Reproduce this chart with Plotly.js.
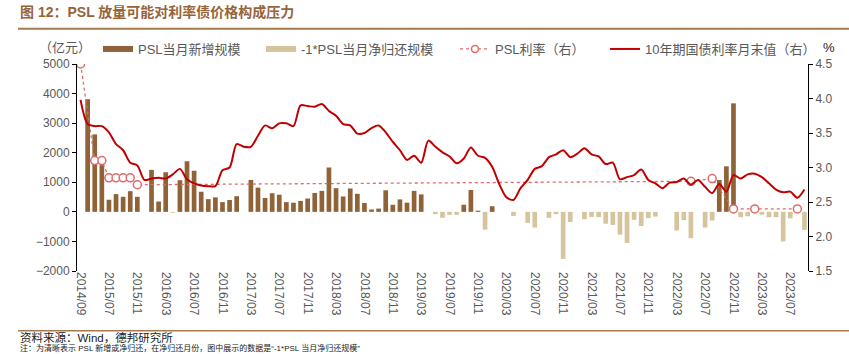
<!DOCTYPE html>
<html><head><meta charset="utf-8">
<script src="https://cdn.plot.ly/plotly-3.0.1.min.js"></script>
<style>html,body{margin:0;padding:0;background:#fff;} #chart{width:849px;height:354px;}</style>
</head><body><div id="chart"></div>
<script>
const categories = [
"2014/09","2014/12","2015/03","2015/06",
"2015/07","2015/08","2015/09","2015/10","2015/11","2015/12",
"2016/01","2016/02","2016/03","2016/04","2016/05","2016/06","2016/07","2016/08","2016/09","2016/10","2016/11","2016/12",
"2017/01","2017/02","2017/03","2017/04","2017/05","2017/06","2017/07","2017/08","2017/09","2017/10","2017/11","2017/12",
"2018/01","2018/02","2018/03","2018/04","2018/05","2018/06","2018/07","2018/08","2018/09","2018/10","2018/11","2018/12",
"2019/01","2019/02","2019/03","2019/04","2019/05","2019/06","2019/07","2019/08","2019/09","2019/10","2019/11","2019/12",
"2020/01","2020/02","2020/03","2020/04","2020/05","2020/06","2020/07","2020/08","2020/09","2020/10","2020/11","2020/12",
"2021/01","2021/02","2021/03","2021/04","2021/05","2021/06","2021/07","2021/08","2021/09","2021/10","2021/11","2021/12",
"2022/01","2022/02","2022/03","2022/04","2022/05","2022/06","2022/07","2022/08","2022/09","2022/10","2022/11","2022/12",
"2023/01","2023/02","2023/03","2023/04","2023/05","2023/06","2023/07","2023/08","2023/09"
];
// PSL当月新增规模（亿元）
const pslNew = [
null,3810,2620,1580,
410,600,510,700,510,null,
1420,350,1340,null,1070,1710,1390,680,430,490,330,400,
530,null,1080,820,470,630,580,330,310,370,450,640,
710,1500,800,520,790,610,300,80,110,730,240,420,
310,710,590,null,null,null,null,null,240,740,40,null,
190,null,null,null,null,null,null,null,null,null,null,null,
null,null,null,null,null,null,null,null,null,null,null,null,
null,null,null,null,null,null,null,null,1080,1540,3670,null,
null,null,null,null,null,null,null,null,null
];
// -1*PSL当月净归还规模（亿元）
const pslRepayNeg = [
null,null,null,null,
null,null,null,null,null,null,
null,null,null,-30,null,null,null,null,null,null,null,null,
null,null,null,null,null,null,null,null,null,null,null,null,
null,null,null,null,null,null,null,null,null,null,null,null,
null,null,null,null,-80,-200,-100,-100,null,null,null,-600,
null,null,null,-140,null,-370,-530,null,-200,-80,-1590,-340,
null,-250,-170,-180,-400,-440,-770,-1050,-270,-480,-210,-160,
null,null,-630,-280,-890,null,-530,-290,null,null,null,-180,
-150,null,-100,-180,-180,-1000,-220,null,-610
];
// PSL利率（%）
const pslRate = [
4.50,null,3.10,3.10,
2.85,2.85,2.85,2.85,2.75,null,
null,null,null,null,null,null,null,null,null,null,null,null,
null,null,null,null,null,null,null,null,null,null,null,null,
null,null,null,null,null,null,null,null,null,null,null,null,
null,null,null,null,null,null,null,null,null,null,null,null,
null,null,null,null,null,null,null,null,null,null,null,null,
null,null,null,null,null,null,null,null,null,null,null,null,
null,null,null,null,2.80,null,null,2.84,null,null,2.40,null,
null,2.40,null,null,null,null,null,2.40,null,null,2.40
];
const pslUnmarked = ["2022/01"];
// 10年期国债利率月末值（%）
const cgb10y = [
3.98,3.63,3.60,3.60,
3.51,3.34,3.25,3.07,3.03,2.82,
2.84,2.85,2.84,2.90,2.98,2.83,2.77,2.74,2.73,2.73,2.96,3.00,
3.34,3.30,3.30,3.46,3.61,3.57,3.64,3.64,3.60,3.90,3.89,3.88,
3.92,3.82,3.75,3.63,3.61,3.49,3.50,3.57,3.61,3.51,3.37,3.25,
3.11,3.17,3.07,3.39,3.30,3.22,3.16,3.06,3.13,3.29,3.17,3.14,
3.01,2.76,2.57,2.53,2.70,2.82,2.98,3.02,3.15,3.19,3.25,3.15,
3.20,3.28,3.19,3.16,3.05,3.07,2.83,2.86,2.89,2.97,2.82,2.77,
2.70,2.78,2.79,2.84,2.75,2.82,2.72,2.63,2.76,2.65,2.89,2.84,
2.90,2.91,2.86,2.77,2.68,2.64,2.65,2.56,2.68
];
const legendNames = ["PSL当月新增规模","-1*PSL当月净归还规模","PSL利率（右）","10年期国债利率月末值（右）"];
const titleText = "图 12：PSL 放量可能对利率债价格构成压力";
const leftUnit = "（亿元）";
const rightUnit = "%";
const sourceText = "资料来源：Wind，德邦研究所";
const noteText = "注：为清晰表示 PSL 新增或净归还，在净归还月份，图中展示的数据是“-1*PSL 当月净归还规模”";

const FONT = "Liberation Sans, Arial, 'Noto Sans CJK SC', sans-serif";
const GRAY = "#595959";
const BROWN = "#8f6238";
const BEIGE = "#d6c49c";
const RED = "#c00000";
const PSLRED = "#e06a6a";

const W = 849, H = 354, ML = 77, MR = 41, MT = 60, MB = 83;
const PW = W - ML - MR, PH = H - MT - MB;
const px = x => (x - ML) / PW;
const py = y => (H - MB - y) / PH;

const nCat = categories.length;
const boundaryTicks = categories.map((c, i) => i).filter(i => i % 4 === 0).map(i => i - 0.5);

const traces = [
  {type:"bar", x:categories, y:pslNew, marker:{color:BROWN}, showlegend:false, hoverinfo:"x+y"},
  {type:"bar", x:categories, y:pslRepayNeg, marker:{color:BEIGE}, showlegend:false, hoverinfo:"x+y"},
  {type:"scatter", mode:"lines", x:categories, y:pslRate, yaxis:"y2", connectgaps:true,
   line:{color:PSLRED, width:1.3, dash:"dot"}, showlegend:false},
  {type:"scatter", mode:"markers", x:categories,
   y:pslRate.map((v,i)=> pslUnmarked.includes(categories[i]) ? null : v), yaxis:"y2",
   marker:{symbol:"circle", size:8, color:"#ffffff", line:{color:PSLRED, width:1.5}}, showlegend:false},
  {type:"scatter", mode:"lines", x:categories, y:cgb10y, yaxis:"y2",
   line:{color:RED, width:2, shape:"spline", smoothing:0.8}, showlegend:false},
  // legend entries
  {type:"scatter", mode:"lines", x:[null], y:[null], name:legendNames[0], legend:"legend", line:{color:BROWN, width:6}},
  {type:"scatter", mode:"lines", x:[null], y:[null], name:legendNames[1], legend:"legend2", line:{color:BEIGE, width:6}},
  {type:"scatter", mode:"lines+markers", x:[null], y:[null], name:legendNames[2], legend:"legend3", line:{color:PSLRED, width:1.3, dash:"dot"},
   marker:{symbol:"circle", size:7, color:"#ffffff", line:{color:PSLRED, width:1.5}}},
  {type:"scatter", mode:"lines", x:[null], y:[null], name:legendNames[3], legend:"legend4", line:{color:RED, width:2}}
];

function legendAt(xpx) {
  return {orientation:"h", xref:"container", yref:"container", x:xpx/W, y:1-34/H, xanchor:"left", yanchor:"top",
          font:{size:13, color:GRAY}, bgcolor:"rgba(0,0,0,0)", itemclick:false, itemdoubleclick:false};
}

const layout = {
  width:W, height:H,
  margin:{l:ML, r:MR, t:MT, b:MB, pad:0},
  paper_bgcolor:"#fff", plot_bgcolor:"#fff",
  font:{family:FONT, size:12, color:GRAY},
  barmode:"relative", bargap:0.34,
  title:{text:"<b>"+titleText+"</b>", x:20/W, xanchor:"left", xref:"container", y:1-12/H, yanchor:"middle", yref:"container",
         font:{family:FONT, size:14, color:"#96643a"}},
  xaxis:{type:"category", categoryorder:"array", categoryarray:categories, range:[-0.5, nCat-0.5],
         tickmode:"linear", tick0:0, dtick:4, tickangle:90, ticks:"", showline:false, showgrid:false, zeroline:false,
         tickfont:{size:12, color:GRAY}, fixedrange:true},
  xaxis2:{overlaying:"x", anchor:"free", position:2/7, type:"linear", range:[-0.5, nCat-0.5],
          tickmode:"array", tickvals:boundaryTicks, showticklabels:false, ticks:"outside", ticklen:4, tickcolor:"#000",
          showline:true, linecolor:"#000", linewidth:1, showgrid:false, zeroline:false, fixedrange:true},
  yaxis:{range:[-2000,5000], dtick:1000, tick0:0, ticks:"outside", ticklen:4, tickcolor:"#000", showline:true, linecolor:"#000",
         showgrid:false, zeroline:false, tickfont:{size:12, color:GRAY}, fixedrange:true},
  yaxis2:{overlaying:"y", side:"right", range:[1.5,4.5], dtick:0.5, tick0:1.5, tickformat:".1f", ticks:"outside", ticklen:4,
          tickcolor:"#000", showline:true, linecolor:"#000", showgrid:false, zeroline:false, tickfont:{size:12, color:GRAY}, fixedrange:true},
  legend:legendAt(98),
  legend2:legendAt(261),
  legend3:legendAt(455),
  legend4:legendAt(605),
  annotations:[
    {text:leftUnit, xref:"paper", yref:"paper", x:px(65), y:py(43), showarrow:false, xanchor:"center", yanchor:"middle", font:{size:13, color:GRAY}},
    {text:rightUnit, xref:"paper", yref:"paper", x:px(829), y:py(43), showarrow:false, xanchor:"center", yanchor:"middle", font:{size:13, color:"#222"}},
    {text:sourceText, xref:"paper", yref:"paper", x:px(19), y:py(338.5), showarrow:false, xanchor:"left", yanchor:"middle", borderpad:0, font:{size:11.5, color:"#222"}},
    {text:noteText, xref:"paper", yref:"paper", x:px(19), y:py(349.5), showarrow:false, xanchor:"left", yanchor:"middle", borderpad:0, font:{size:8, color:"#222"}}
  ],
  shapes:[
    {type:"line", xref:"paper", yref:"paper", x0:px(18), x1:px(849), y0:py(24), y1:py(24), line:{color:"#a57a4f", width:2}},
    {type:"line", xref:"paper", yref:"paper", x0:px(18), x1:px(849), y0:py(332), y1:py(332), line:{color:"#a57a4f", width:1.5}}
  ]
};

Plotly.newPlot("chart", traces, layout, {displayModeBar:false, staticPlot:true});
</script>
</body></html>
